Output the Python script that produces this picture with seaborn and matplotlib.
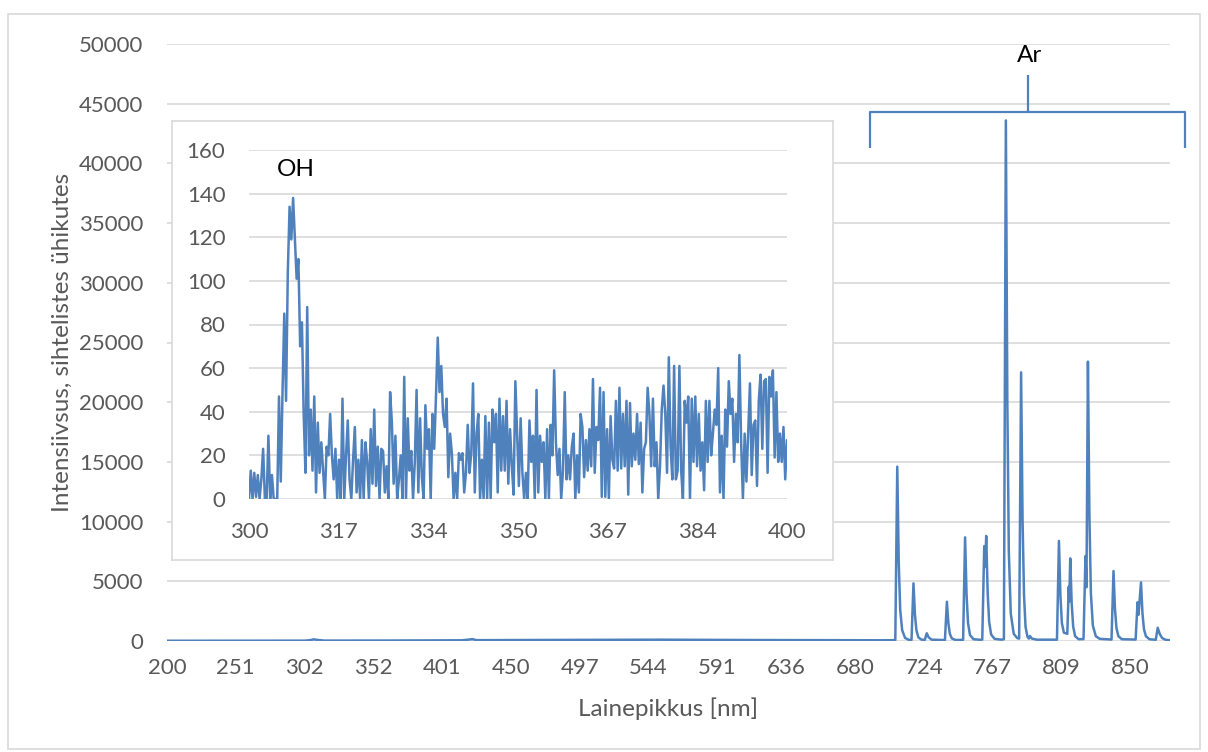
import numpy as np
import pandas as pd
import matplotlib
matplotlib.use("Agg")
import matplotlib.pyplot as plt
from matplotlib.patches import Rectangle
from matplotlib.lines import Line2D
import seaborn as sns

sns.set_theme(style="white")
plt.rcParams["font.family"] = ["Lato", "DejaVu Sans"]

BLUE = "#4f81bd"
GRID = "#d9d9d9"
TEXT = "#595959"

# ---------------------------------------------------------------------------
# Full spectrum: detector pixel -> counts; every 140th pixel carries a
# wavelength label on the category axis.
wavelength_labels = [200, 251, 302, 352, 401, 450, 497, 544, 591, 636,
                     680, 724, 767, 809, 850]
label_step = 140
last_pixel = 2041

main_pixel = [
    0, 150, 280, 290, 299, 306, 320, 450, 600, 615, 621, 630, 800, 1000,
    1200, 1350, 1450,
    1482, 1486, 1489, 1492, 1496, 1502, 1510,
    1515, 1519, 1522, 1525, 1529, 1535,
    1542, 1546, 1550, 1556,
    1583, 1587, 1590, 1593, 1597, 1604,
    1620, 1624, 1627, 1630, 1634, 1641, 1655,
    1659, 1663, 1665, 1667, 1670, 1673, 1677, 1684, 1698,
    1703, 1707, 1710, 1713, 1717, 1723, 1730,
    1734, 1738, 1741, 1744, 1747, 1751, 1754,
    1756, 1760, 1770,
    1811, 1815, 1818, 1821, 1825,
    1832, 1835, 1836, 1838, 1841, 1844, 1848, 1855,
    1865, 1869, 1871, 1874, 1877, 1880, 1884, 1890, 1898,
    1922, 1926, 1929, 1932, 1936, 1943,
    1971, 1975, 1977, 1982, 1985, 1988, 1992, 1999,
    2012, 2016, 2020, 2025, 2032, 2041,
]
main_counts = [
    20, 25, 30, 60, 140, 90, 35, 40, 60, 120, 160, 70, 90, 110,
    80, 70, 60,
    70, 14600, 6600, 2600, 900, 250, 90,
    90, 4830, 2200, 900, 300, 120,
    90, 650, 300, 110,
    80, 3290, 1500, 600, 220, 90,
    90, 8680, 3900, 1500, 500, 150, 100,
    120, 7950, 6200, 8800, 4000, 1600, 550, 180, 110,
    150, 43600, 20000, 7500, 2300, 600, 250,
    200, 22500, 10000, 3800, 1200, 350, 200,
    420, 200, 110,
    110, 8380, 3800, 1500, 700,
    600, 4550, 3300, 6920, 3100, 1200, 400, 150,
    160, 7120, 4500, 23400, 10500, 4000, 1300, 400, 180,
    120, 5860, 2700, 1100, 400, 150,
    120, 3240, 2200, 4910, 2300, 1000, 400, 150,
    100, 1110, 600, 250, 100, 60,
]

# Zoomed 300-400 nm window (OH band)
inset_labels = [300, 317, 334, 350, 367, 384, 400]
inset_counts = [
    0, 13, 0, 12, 1, 11, 0, 9, 23, 0, 0, 29, 0, 11, 0, 0, 0, 47, 8, 49,
    85, 45, 104, 134, 119, 138, 119, 101, 110, 70, 81, 39, 12, 88, 20, 41, 13, 47, 3, 35,
    12, 26, 13, 0, 24, 20, 39, 20, 9, 23, 0, 18, 0, 46, 0, 20, 36, 9, 0, 18,
    33, 3, 18, 0, 27, 0, 26, 17, 0, 32, 7, 41, 6, 24, 0, 23, 22, 3, 15, 0,
    49, 35, 7, 29, 0, 9, 20, 0, 56, 0, 37, 13, 22, 0, 17, 50, 3, 37, 10, 0,
    43, 23, 32, 0, 39, 23, 47, 74, 49, 61, 39, 33, 46, 10, 30, 21, 0, 12, 0, 21, 18,
    21, 3, 12, 34, 12, 21, 53, 3, 30, 39, 0, 18, 0, 38, 0, 35, 0, 41, 26, 39,
    3, 46, 13, 38, 13, 45, 7, 32, 15, 2, 54, 30, 6, 37, 12, 0, 12, 0, 36, 17,
    29, 0, 50, 3, 29, 17, 26, 0, 32, 0, 34, 20, 59, 26, 11, 23, 0, 13, 49, 9, 20,
    9, 24, 30, 0, 20, 3, 39, 33, 10, 27, 13, 32, 15, 55, 12, 33, 27, 51, 1, 49,
    1, 32, 0, 38, 18, 14, 45, 13, 51, 14, 39, 15, 45, 2, 44, 15, 30, 18, 39, 16,
    35, 3, 23, 26, 51, 39, 15, 46, 15, 26, 0, 15, 41, 52, 39, 12, 65, 24, 9, 61, 9, 13,
    61, 13, 0, 45, 35, 47, 0, 46, 17, 47, 15, 39, 13, 26, 4, 45, 17, 45, 20, 30,
    41, 34, 60, 3, 29, 0, 41, 24, 54, 39, 46, 17, 39, 26, 66, 26, 0, 30, 8, 30,
    53, 11, 34, 36, 6, 45, 57, 23, 54, 55, 12, 56, 47, 59, 19, 49, 17, 30, 17, 33, 9, 27,
]

main_df = pd.DataFrame({"pixel": main_pixel, "counts": main_counts})
inset_df = pd.DataFrame({"pos": np.arange(len(inset_counts)), "counts": inset_counts})

# ---------------------------------------------------------------------------
W, H = 1208, 752
fig = plt.figure(figsize=(W / 100, H / 100), dpi=100)
fig.patch.set_facecolor("white")


def box(left, top, right, bottom):
    return [left / W, 1 - bottom / H, (right - left) / W, (bottom - top) / H]


# main chart
ax = fig.add_axes(box(167, 44, 1170, 641))
sns.lineplot(data=main_df, x="pixel", y="counts", ax=ax, color=BLUE,
             linewidth=1.8, sort=False, estimator=None)
ax.set_xlim(0, last_pixel)
ax.set_ylim(0, 50000)
ax.set_yticks(range(0, 50001, 5000))
ax.set_xticks([i * label_step for i in range(len(wavelength_labels))])
ax.set_xticklabels([str(v) for v in wavelength_labels])
ax.grid(axis="y", color=GRID, linewidth=1.2)
ax.grid(axis="x", visible=False)
ax.set_axisbelow(True)
for s in ax.spines.values():
    s.set_visible(False)
ax.tick_params(axis="both", length=0, labelsize=16, labelcolor=TEXT)
ax.tick_params(axis="y", pad=17)
ax.tick_params(axis="x", pad=12)
ax.set_xlabel("Lainepikkus [nm]", fontsize=17.5, color=TEXT)
ax.set_ylabel("Intensiivsus, sihtelistes ühikutes", fontsize=17.5, color=TEXT)
ax.xaxis.set_label_coords(0.5, -0.095)
ax.yaxis.set_label_coords(-0.094, 0.5)

# inset frame
frame = fig.add_axes(box(172, 121, 833, 560))
frame.set_facecolor("white")
frame.set_xticks([])
frame.set_yticks([])
for s in frame.spines.values():
    s.set_color(GRID)
    s.set_linewidth(1.2)

# inset chart
iax = fig.add_axes(box(249, 150, 787, 499))
iax.set_facecolor("none")
sns.lineplot(data=inset_df, x="pos", y="counts", ax=iax, color=BLUE,
             linewidth=1.8, sort=False, estimator=None)
n_in = len(inset_counts)
iax.set_xlim(0, n_in - 1)
iax.set_ylim(0, 160)
iax.set_yticks(range(0, 161, 20))
iax.set_xticks(np.linspace(0, n_in - 1, len(inset_labels)))
iax.set_xticklabels([str(v) for v in inset_labels])
iax.grid(axis="y", color=GRID, linewidth=1.2)
iax.grid(axis="x", visible=False)
iax.set_axisbelow(True)
for s in iax.spines.values():
    s.set_visible(False)
iax.tick_params(axis="both", length=0, labelsize=16, labelcolor=TEXT)
iax.tick_params(axis="y", pad=17)
iax.tick_params(axis="x", pad=16.5)
iax.set_xlabel("")
iax.set_ylabel("")

# overlay for chart border, bracket and band labels (pixel coordinates)
ov = fig.add_axes([0, 0, 1, 1])
ov.set_xlim(0, W)
ov.set_ylim(H, 0)
ov.axis("off")
ov.set_facecolor("none")
ov.add_patch(Rectangle((8, 14), 1192, 735, fill=False, edgecolor=GRID, linewidth=1.2))

bracket = dict(color=BLUE, linewidth=1.6, solid_capstyle="butt")
ov.add_line(Line2D([870, 870, 1185, 1185], [148, 112, 112, 148], **bracket))
ov.add_line(Line2D([1028, 1028], [112, 75], **bracket))
ov.text(1030, 55, "Ar", fontsize=17.5, color="black", ha="center", va="center")
ov.text(296, 170, "OH", fontsize=17.5, color="black", ha="center", va="center")

fig.savefig("out.png", dpi=100)
